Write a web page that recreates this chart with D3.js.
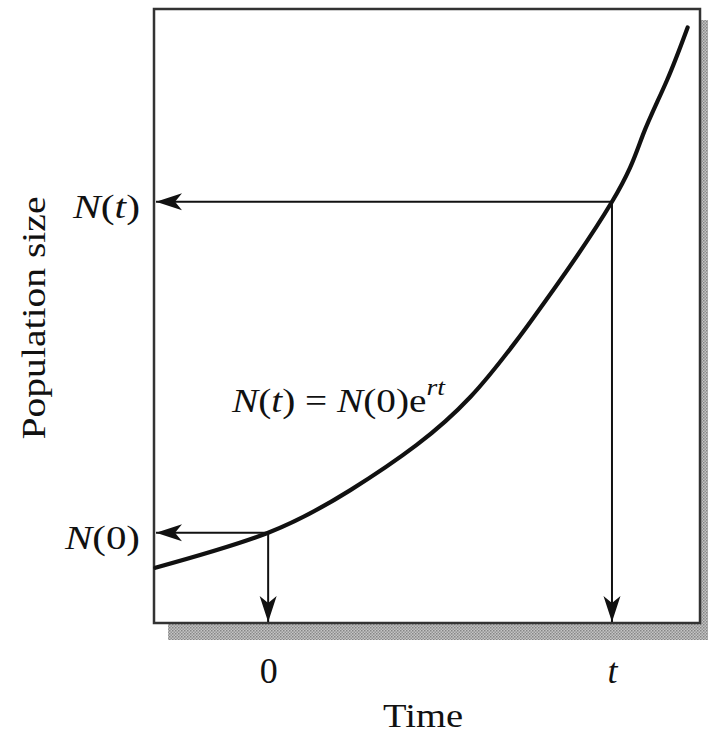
<!DOCTYPE html>
<html>
<head>
<meta charset="utf-8">
<script src="https://cdn.jsdelivr.net/npm/d3@7"></script>
<style>
  html, body { margin: 0; padding: 0; background: #fff; }
  svg { display: block; }
  text { font-family: "Liberation Serif", "Times New Roman", serif; fill: #111; white-space: pre; }
</style>
</head>
<body>
<div id="viz"></div>
<script>
// Exponential growth curve N(t) = N(0)e^rt
const times   = [-1.64, 0, 1.19, 2.16, 2.94, 3.81, 5, 5.45, 5.80, 6.10];
const popSize = [9.0, 14.7, 21.6, 29.0, 36.8, 49.0, 68.6, 79.5, 88.4, 97.0];

// Marked instants (time axis) and their population sizes (population axis)
const markTimes  = [0, 5];
const markLabels = ["0", "t"];
const markPops   = [14.7, 68.6];
const popLabels  = ["N(0)", "N(t)"];

const timeDomain = [-1.66, 6.28];
const popDomain  = [0, 100];

const width = 708, height = 736;
const margin = {top: 9, right: 8, bottom: 113, left: 154};
const innerW = width - margin.left - margin.right;
const innerH = height - margin.top - margin.bottom;

// 1. Canvas + scales
const svg = d3.select("#viz").append("svg")
    .attr("width", width)
    .attr("height", height);

const x = d3.scaleLinear().domain(timeDomain).range([0, innerW]);
const y = d3.scaleLinear().domain(popDomain).range([innerH, 0]);

// 2. Defs: halftone shadow + barbed arrow head
const defs = svg.append("defs");
const pat = defs.append("pattern")
    .attr("id", "halftone")
    .attr("width", 3).attr("height", 3)
    .attr("patternUnits", "userSpaceOnUse");
pat.append("rect").attr("width", 3).attr("height", 3).attr("fill", "#c4c4c4");
pat.append("rect").attr("width", 1.5).attr("height", 1.5).attr("fill", "#858585");
pat.append("rect").attr("x", 1.5).attr("y", 1.5).attr("width", 1.5).attr("height", 1.5).attr("fill", "#959595");

defs.append("marker")
    .attr("id", "head")
    .attr("markerUnits", "userSpaceOnUse")
    .attr("viewBox", "-27 -9 28 18")
    .attr("refX", 0).attr("refY", 0)
    .attr("markerWidth", 28).attr("markerHeight", 18)
    .attr("orient", "auto")
  .append("path")
    .attr("d", "M0,0 L-26,-8.5 L-19,0 L-26,8.5 Z")
    .attr("fill", "#111");

// splits a label into roman / italic runs (N, t, r are italic symbols)
function styled(sel, str) {
    sel.text(null);
    const runs = [];
    for (const ch of str) {
        const it = "Ntr".includes(ch);
        if (runs.length && runs[runs.length - 1].it === it) runs[runs.length - 1].s += ch;
        else runs.push({s: ch, it: it});
    }
    runs.forEach(r => sel.append("tspan").style("font-style", r.it ? "italic" : "normal").text(r.s));
    return sel;
}

const g = svg.append("g").attr("transform", `translate(${margin.left},${margin.top})`);

// 3. Drop shadow + frame
g.append("rect")
    .attr("x", 14).attr("y", 11)
    .attr("width", innerW + 10).attr("height", innerH + 6)
    .attr("fill", "url(#halftone)");

g.append("rect")
    .attr("width", innerW).attr("height", innerH)
    .attr("fill", "#fff")
    .attr("stroke", "#333")
    .attr("stroke-width", 2.5);

// 4. Growth curve
const pts = times.map((t, i) => [t, popSize[i]]);
g.append("path")
    .datum(pts)
    .attr("fill", "none")
    .attr("stroke", "#111")
    .attr("stroke-width", 4.2)
    .attr("stroke-linecap", "round")
    .attr("d", d3.line().x(d => x(d[0])).y(d => y(d[1])).curve(d3.curveNatural));

// 5. Read-off arrows
markTimes.forEach((t, i) => {
    const p = markPops[i];
    g.append("line")
        .attr("x1", x(t)).attr("y1", y(p))
        .attr("x2", x(timeDomain[0]) + 2).attr("y2", y(p))
        .attr("stroke", "#111").attr("stroke-width", 2)
        .attr("marker-end", "url(#head)");
    g.append("line")
        .attr("x1", x(t)).attr("y1", y(p))
        .attr("x2", x(t)).attr("y2", y(popDomain[0]) - 1)
        .attr("stroke", "#111").attr("stroke-width", 2)
        .attr("marker-end", "url(#head)");
});

// 6. Axis labels (ticks only, no axis lines)
const xAxis = g.append("g")
    .attr("transform", `translate(0,${innerH})`)
    .call(d3.axisBottom(x).tickValues(markTimes).tickFormat((d, i) => markLabels[i]).tickSize(0).tickPadding(34));
xAxis.select(".domain").remove();
xAxis.attr("font-family", null).attr("font-size", 36);
xAxis.selectAll(".tick text").each(function (d, i) { styled(d3.select(this), markLabels[i]); });

const yAxis = g.append("g")
    .call(d3.axisLeft(y).tickValues(markPops).tickFormat((d, i) => popLabels[i]).tickSize(0).tickPadding(14));
yAxis.select(".domain").remove();
yAxis.attr("font-family", null).attr("font-size", 34);
yAxis.selectAll(".tick text")
    .attr("dy", "0.45em")
    .attr("lengthAdjust", "spacingAndGlyphs")
    .attr("textLength", (d, i) => i === 0 ? 75 : 67)
    .each(function (d, i) { styled(d3.select(this), popLabels[i]); });

// 7. Titles + equation
g.append("text")
    .attr("transform", `translate(${45 - margin.left},${318 - margin.top}) rotate(-90)`)
    .attr("text-anchor", "middle")
    .attr("font-size", 34)
    .attr("lengthAdjust", "spacingAndGlyphs")
    .attr("textLength", 243)
    .text("Population size");

g.append("text")
    .attr("x", 423 - margin.left)
    .attr("y", 727 - margin.top)
    .attr("text-anchor", "middle")
    .attr("font-size", 33)
    .attr("lengthAdjust", "spacingAndGlyphs")
    .attr("textLength", 80)
    .text("Time");

const eq = g.append("text")
    .attr("x", 232 - margin.left)
    .attr("y", 412 - margin.top)
    .attr("font-size", 34)
    .attr("lengthAdjust", "spacingAndGlyphs")
    .attr("textLength", 213);
styled(eq, "N(t) = N(0)e");
eq.append("tspan")
    .attr("dy", -17)
    .attr("font-size", 24)
    .style("font-style", "italic")
    .text("rt");
</script>
</body>
</html>
